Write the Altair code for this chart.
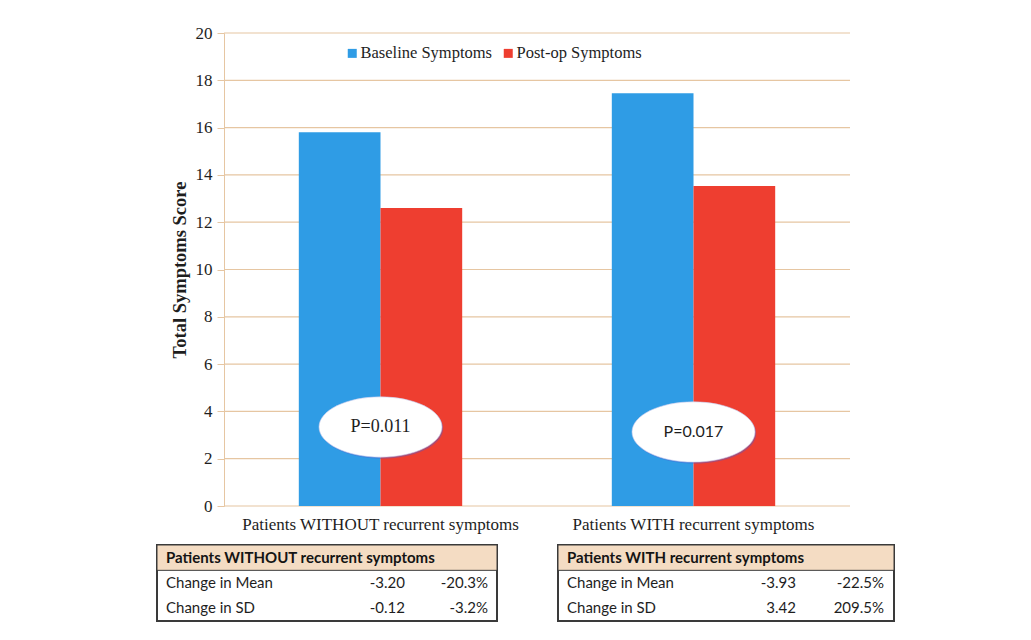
import altair as alt
import pandas as pd

# ---------------- data ----------------
categories = ["Patients WITHOUT recurrent symptoms", "Patients WITH recurrent symptoms"]
series = ["Baseline Symptoms", "Post-op Symptoms"]
baseline_scores = [15.8, 17.45]
postop_scores = [12.6, 13.53]
y_ticks = [0, 2, 4, 6, 8, 10, 12, 14, 16, 18, 20]

p_labels = ["P=0.011", "P=0.017"]
p_label_y = [3.34, 3.13]

table_titles = ["Patients WITHOUT recurrent symptoms", "Patients WITH recurrent symptoms"]
row_labels = ["Change in Mean", "Change in SD"]
change_values = [["-3.20", "-0.12"], ["-3.93", "3.42"]]
change_pcts = [["-20.3%", "-3.2%"], ["-22.5%", "209.5%"]]

# ---------------- styles ----------------
BLUE = "#2f9ce5"
RED = "#ee3e30"
TAN = "#e6c6a2"
HEADER_FILL = "#f4dcc3"
SERIF = "Liberation Serif"
SANS = "Lato"
TXT = "#1e1e1e"

W = 693          # chart area incl. the room left for the y axis
AX = 67          # where the value axis sits inside it

bars_df = pd.DataFrame(
    [{"category": c, "series": series[0], "value": v} for c, v in zip(categories, baseline_scores)]
    + [{"category": c, "series": series[1], "value": v} for c, v in zip(categories, postop_scores)]
)
p_df = pd.DataFrame({"category": categories, "label": p_labels, "y": p_label_y})
grid_df = pd.DataFrame({"tick": y_ticks})

x_scale = alt.Scale(domain=categories, range=[AX, W], paddingInner=0.478, paddingOuter=0.239)
y_scale = alt.Scale(domain=[0, 20], nice=False)
y_axis = alt.Axis(
    values=y_ticks, title="Total Symptoms Score", offset=-AX, grid=False,
    titleFont=SERIF, titleFontSize=18.5, titleFontWeight="bold", titleColor=TXT,
    titlePadding=6, labelFont=SERIF, labelFontSize=17, labelColor=TXT,
    labelPadding=5, tickSize=7, tickColor=TAN, domainColor=TAN,
)

grid = alt.Chart(grid_df).mark_rule(color=TAN, strokeWidth=1.2).encode(
    y=alt.Y("tick:Q", scale=y_scale, axis=y_axis),
    x=alt.value(AX),
    x2=alt.value(W),
)

bars = alt.Chart(bars_df).mark_bar().encode(
    x=alt.X(
        "category:N",
        sort=categories,
        scale=x_scale,
        axis=alt.Axis(
            title=None, ticks=False, tickSize=0, domain=False, labelPadding=10,
            labelFont=SERIF, labelFontSize=17, labelColor=TXT, labelAngle=0, labelLimit=0,
        ),
    ),
    xOffset=alt.XOffset("series:N", sort=series, scale=alt.Scale(paddingInner=0, paddingOuter=0)),
    y=alt.Y("value:Q", scale=y_scale, axis=y_axis),
    color=alt.Color(
        "series:N",
        scale=alt.Scale(domain=series, range=[BLUE, RED]),
        legend=alt.Legend(
            orient="none", legendX=187, legendY=12, direction="horizontal", title=None,
            symbolType="square", symbolSize=81, symbolStrokeWidth=0, labelFont=SERIF,
            labelFontSize=16.5, labelColor=TXT, labelOffset=0, columnPadding=7, padding=0,
        ),
    ),
)

ELLIPSE = "M -1 0 A 1 0.49 0 1 1 1 0 A 1 0.49 0 1 1 -1 0 Z"
ell_base = alt.Chart(p_df).encode(
    x=alt.X("category:N", sort=categories, scale=x_scale),
    y=alt.Y("y:Q", scale=y_scale, axis=y_axis),
)
shadow = ell_base.mark_point(
    shape=ELLIPSE, size=15129, filled=True, color="#4a5ccf", opacity=0.4, xOffset=1.2, yOffset=1.6
)
ellipse = ell_base.mark_point(
    shape=ELLIPSE, size=15129, filled=True, fill="white", stroke="#c4c9ec", strokeWidth=0.6, opacity=1
)
p_text1 = ell_base.transform_filter(alt.datum.category == categories[0]).mark_text(
    font=SERIF, fontSize=18, color=TXT
).encode(text="label:N")
p_text2 = ell_base.transform_filter(alt.datum.category == categories[1]).mark_text(
    font=SANS, fontSize=16, color=TXT
).encode(text="label:N")

top = alt.layer(grid, bars, shadow, ellipse, p_text1, p_text2).properties(
    width=W, height=473, view=alt.ViewBackground(strokeWidth=0)
)


def make_table(i, width, val_right, pct_right):
    rows = ["header", "mean", "sd"]
    df = pd.DataFrame({
        "row": rows,
        "label": [table_titles[i]] + row_labels,
        "val": [""] + change_values[i],
        "pct": [""] + change_pcts[i],
    })
    y = alt.Y("row:N", sort=rows, scale=alt.Scale(domain=rows, paddingInner=0, paddingOuter=0), axis=None)
    base = alt.Chart(df).encode(y=y)
    header = base.transform_filter(alt.datum.row == "header").mark_rect(
        fill=HEADER_FILL, stroke="#3a3a3a", strokeWidth=1
    ).encode(x=alt.value(0), x2=alt.value(width))
    head_txt = base.transform_filter(alt.datum.row == "header").mark_text(
        align="left", font=SANS, fontSize=15, fontWeight="bold", color="#141414"
    ).encode(x=alt.value(9), text="label:N")
    body = base.transform_filter(alt.datum.row != "header")
    lab = body.mark_text(align="left", font=SANS, fontSize=15, color=TXT).encode(
        x=alt.value(9), text="label:N")
    val = body.mark_text(align="right", font=SANS, fontSize=15, color=TXT).encode(
        x=alt.value(val_right), text="val:N")
    pct = body.mark_text(align="right", font=SANS, fontSize=15, color=TXT).encode(
        x=alt.value(pct_right), text="pct:N")
    return alt.layer(header, head_txt, lab, val, pct).properties(
        width=width, height=76, view=alt.ViewBackground(stroke="#3a3a3a", strokeWidth=2, fill="white")
    )


tables = alt.hconcat(
    make_table(0, 340, 248, 331),
    make_table(1, 336, 238, 326),
    spacing=57,
)

chart = alt.vconcat(top, tables, spacing=11).properties(
    padding={"left": 147, "top": 16, "right": 5, "bottom": 5},
    background="white",
).configure_view(stroke="transparent")

chart.save("out.html", embed_options={"renderer": "svg", "actions": False})
